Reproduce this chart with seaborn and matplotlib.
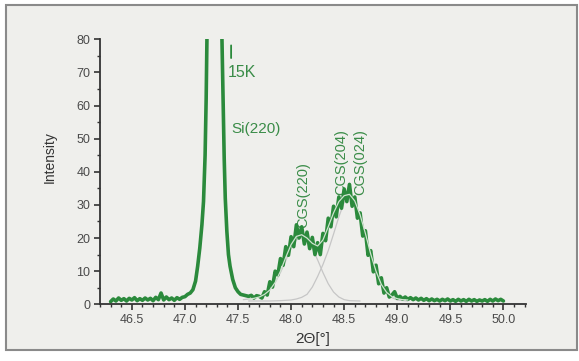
import numpy as np
import pandas as pd
import matplotlib
matplotlib.use("Agg")
import matplotlib.pyplot as plt
import seaborn as sns
from matplotlib.patches import Rectangle
from matplotlib.ticker import MultipleLocator

# ---- data ----
two_theta = [
    46.300, 46.325, 46.350, 46.375, 46.400, 46.425, 46.450, 46.475, 46.500, 46.525,
    46.550, 46.575, 46.600, 46.625, 46.650, 46.675, 46.700, 46.725, 46.750, 46.775,
    46.800, 46.825, 46.850, 46.875, 46.900, 46.925, 46.950, 46.975, 47.000, 47.025,
    47.050, 47.075, 47.100, 47.120, 47.140, 47.160, 47.175, 47.190, 47.200, 47.210,
    47.230, 47.260, 47.290, 47.320, 47.340, 47.355, 47.370, 47.380, 47.395, 47.410,
    47.425, 47.450, 47.475, 47.500, 47.525, 47.550, 47.575, 47.600, 47.625, 47.650,
    47.675, 47.700, 47.725, 47.750, 47.775, 47.800, 47.825, 47.850, 47.875, 47.900,
    47.925, 47.950, 47.975, 48.000, 48.025, 48.050, 48.075, 48.100, 48.125, 48.150,
    48.175, 48.200, 48.225, 48.250, 48.275, 48.300, 48.325, 48.350, 48.375, 48.400,
    48.425, 48.450, 48.475, 48.500, 48.525, 48.550, 48.575, 48.600, 48.625, 48.650,
    48.675, 48.700, 48.725, 48.750, 48.775, 48.800, 48.825, 48.850, 48.875, 48.900,
    48.925, 48.950, 48.975, 49.000, 49.025, 49.050, 49.075, 49.100, 49.125, 49.150,
    49.175, 49.200, 49.225, 49.250, 49.275, 49.300, 49.325, 49.350, 49.375, 49.400,
    49.425, 49.450, 49.475, 49.500, 49.525, 49.550, 49.575, 49.600, 49.625, 49.650,
    49.675, 49.700, 49.725, 49.750, 49.775, 49.800, 49.825, 49.850, 49.875, 49.900,
    49.925, 49.950, 49.975, 50.000,
]
intensity = [
    0.8, 1.6, 1.0, 1.9, 1.2, 1.7, 1.0, 1.8, 1.3, 2.0,
    1.1, 1.7, 1.2, 1.9, 1.3, 1.8, 1.1, 2.1, 1.4, 3.4,
    1.3, 2.2, 1.4, 1.9, 1.2, 2.0, 1.5, 2.1, 2.3, 3.0,
    3.4, 4.4, 7.0, 11.5, 17.0, 24.0, 31.0, 45.0, 62.0, 85.0,
    150.0, 400.0, 300.0, 140.0, 95.0, 70.0, 44.0, 32.0, 22.0, 15.0,
    11.5, 7.5, 5.0, 3.8, 3.0, 2.8, 2.6, 2.4, 2.7, 1.9,
    2.6, 2.4, 1.9, 3.8, 2.8, 6.8, 5.2, 10.0, 8.8, 13.8,
    11.8, 17.4, 14.8, 20.4, 17.4, 24.0, 20.0, 23.4, 18.2, 21.8,
    16.8, 20.2, 15.0, 18.6, 15.0, 21.4, 19.2, 26.0, 23.4, 29.6,
    26.4, 32.4, 29.0, 34.8, 31.0, 36.2, 29.6, 32.4, 26.0, 27.6,
    20.6, 22.2, 14.8, 16.2, 9.8, 11.8, 6.2, 8.0, 3.4, 5.0,
    2.2, 2.8, 3.8, 1.8, 2.4, 1.6, 2.2, 1.5, 2.0, 1.4,
    1.9, 1.3, 1.8, 1.2, 1.7, 1.1, 1.6, 1.1, 1.5, 1.0,
    1.5, 1.1, 1.6, 1.0, 1.4, 0.9, 1.5, 1.0, 1.4, 0.9,
    1.5, 1.0, 1.4, 0.9, 1.3, 1.0, 1.4, 0.9, 1.5, 1.0,
    1.6, 1.1, 1.5, 1.0,
]

fit_x = [47.60, 47.65, 47.70, 47.75, 47.80, 47.85, 47.90, 47.95, 48.00, 48.05,
         48.10, 48.15, 48.20, 48.25, 48.30, 48.35, 48.40, 48.45, 48.50, 48.55,
         48.60, 48.65, 48.70, 48.75, 48.80, 48.85, 48.90, 48.95, 49.00, 49.05, 49.10]
fit_total = [1.6, 1.8, 2.2, 3.0, 4.3, 6.6, 10.0, 14.2, 18.0, 20.5,
             21.0, 20.0, 18.4, 17.6, 19.4, 23.4, 27.6, 31.0, 32.8, 33.2,
             31.2, 27.0, 21.4, 15.2, 10.0, 6.0, 3.6, 2.3, 1.7, 1.4, 1.3]

comp1_x = [47.55, 47.65, 47.75, 47.80, 47.85, 47.90, 47.95, 48.00, 48.05, 48.10,
           48.15, 48.20, 48.25, 48.30, 48.35, 48.40, 48.45, 48.50, 48.55, 48.65]
comp1_y = [1.4, 1.8, 3.0, 4.4, 6.6, 9.6, 13.2, 16.8, 19.4, 20.4,
           19.6, 17.0, 13.4, 9.6, 6.2, 3.7, 2.2, 1.4, 1.1, 1.0]

comp2_x = [47.60, 47.70, 47.80, 47.90, 48.00, 48.05, 48.10, 48.15, 48.20, 48.25,
           48.30, 48.35, 48.40, 48.45, 48.50, 48.55, 48.60, 48.65, 48.70, 48.75,
           48.80, 48.85, 48.90, 48.95, 49.00, 49.10]
comp2_y = [1.0, 1.0, 1.0, 1.1, 1.3, 1.6, 2.1, 3.0, 5.2, 8.4,
           12.0, 16.2, 21.2, 26.4, 30.8, 32.6, 31.0, 26.8, 21.0, 15.0,
           9.8, 5.9, 3.4, 2.0, 1.3, 1.0]

x_ticks = [46.5, 47.0, 47.5, 48.0, 48.5, 49.0, 49.5, 50.0]
y_ticks = [0, 10, 20, 30, 40, 50, 60, 70, 80]

# ---- styling ----
sns.set_style("ticks")
plt.rcParams['font.family'] = ['Liberation Sans', 'DejaVu Sans']

BG = "#efefec"
GREEN = "#2b8a3c"
TGREEN = "#3a8c48"

fig = plt.figure(figsize=(5.79, 3.61), dpi=100)
fig.patch.set_facecolor("white")
frame = Rectangle((6 / 579, (361 - 350) / 361), 571 / 579, 345 / 361,
                  transform=fig.transFigure, facecolor=BG,
                  edgecolor="#8a8a8a", linewidth=1.5, zorder=-10)
fig.add_artist(frame)

ax = fig.add_axes([100 / 579, (361 - 304.3) / 361, 425.7 / 579, 265 / 361])
ax.set_facecolor("none")
ax.set_zorder(1)

sns.lineplot(x=comp1_x, y=comp1_y, ax=ax, color="#c6c6c6", lw=0.9, zorder=1)
sns.lineplot(x=comp2_x, y=comp2_y, ax=ax, color="#c6c6c6", lw=0.9, zorder=1)
df = pd.DataFrame({"two_theta": two_theta, "intensity": intensity})
sns.lineplot(data=df, x="two_theta", y="intensity", ax=ax, color=GREEN, lw=2.6, zorder=2)
sns.lineplot(x=fit_x, y=fit_total, ax=ax, color="#cfe3cf", lw=0.9, zorder=3)

ax.set_xlim(46.2, 50.21)
ax.set_ylim(0, 80)
ax.set_xticks(x_ticks)
ax.set_xticklabels([f"{v:.1f}" for v in x_ticks])
ax.set_yticks(y_ticks)
ax.xaxis.set_minor_locator(MultipleLocator(0.1))
ax.yaxis.set_minor_locator(MultipleLocator(5))
ax.tick_params(axis="both", which="major", length=4, width=1.2, color="#333333",
               labelsize=9, labelcolor="#4a4a4a", direction="out", pad=3)
ax.tick_params(axis="both", which="minor", length=2.5, width=1.0, color="#333333", direction="out")
for s in ["top", "right"]:
    ax.spines[s].set_visible(False)
for s in ["left", "bottom"]:
    ax.spines[s].set_linewidth(1.3)
    ax.spines[s].set_color("#333333")

ax.set_ylabel("Intensity", fontsize=10, color="#333333")
ax.yaxis.set_label_coords(-0.101, 0.556)
ax.set_xlabel("2Θ[°]", fontsize=11, color="#333333", labelpad=4)

# annotations
ax.annotate("", xy=(47.435, 79.0), xytext=(47.435, 73.5),
            arrowprops=dict(arrowstyle="-", color=GREEN, lw=1.3))
ax.text(47.40, 70.0, "15K", fontsize=11.5, color=TGREEN, ha="left", va="center")
ax.text(47.44, 53.0, "Si(220)", fontsize=11, color=TGREEN, ha="left", va="center")
ax.text(48.115, 23.0, "CGS(220)", fontsize=10.5, color=TGREEN, rotation=90,
        ha="center", va="bottom", zorder=1.5)
ax.text(48.476, 33.0, "CGS(204)", fontsize=10.5, color=TGREEN, rotation=90,
        ha="center", va="bottom", zorder=1.5)
ax.text(48.65, 33.0, "CGS(024)", fontsize=10.5, color=TGREEN, rotation=90,
        ha="center", va="bottom", zorder=1.5)

fig.savefig("out.png", dpi=100)
